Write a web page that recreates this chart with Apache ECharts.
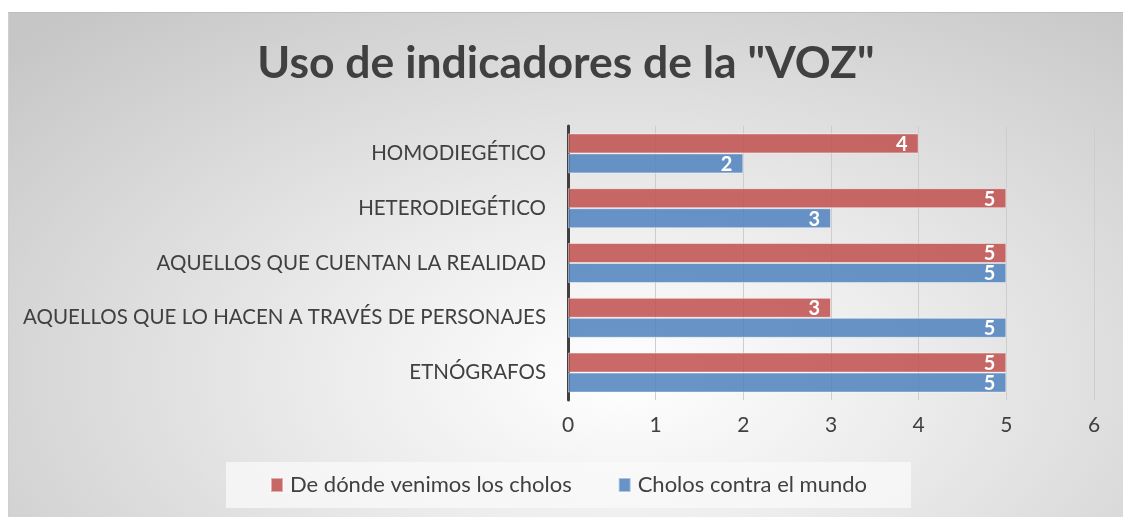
<!DOCTYPE html>
<html>
<head>
<meta charset="utf-8">
<script src="https://cdn.jsdelivr.net/npm/echarts@6/dist/echarts.min.js"></script>
<style>
html,body{margin:0;padding:0;background:#fff;}
#box{position:absolute;left:8px;top:12px;width:1115px;height:505px;
 background:radial-gradient(ellipse 75% 95% at 55% 72%, #ffffff 0%, #ececec 35%, #c6c6c6 100%);
 border-top:1px solid #bdbdbd;border-left:1px solid #cfcfcf;box-sizing:border-box;}
#chart{width:100%;height:100%;}
</style>
</head>
<body>
<div id="box"><div id="chart"></div></div>
<script>
const titleText = 'Uso de indicadores de la "VOZ"';
const categories = ['HOMODIEGÉTICO','HETERODIEGÉTICO','AQUELLOS QUE CUENTAN LA REALIDAD','AQUELLOS QUE LO HACEN A TRAVÉS DE PERSONAJES','ETNÓGRAFOS'];
const seriesNames = ['De dónde venimos los cholos','Cholos contra el mundo'];
const redValues = [4,5,5,3,5];
const blueValues = [2,3,5,5,5];
const xTicks = [0,1,2,3,4,5,6];

const font = 'Lato, "Open Sans", sans-serif';
const chart = echarts.init(document.getElementById('chart'));
const labelCfg = {show:true, position:'insideRight', color:'#fff', fontWeight:'bold', fontSize:20, fontFamily:font, offset:[-6,1]};
chart.setOption({
  animation:false,
  title:{text:titleText, left:'center', top:23, textStyle:{fontSize:44.5, fontWeight:'bold', color:'#404040', fontFamily:font}},
  grid:{left:559, right:29, top:113, bottom:117},
  legend:{
    data:seriesNames, left:217, top:449, itemWidth:12, itemHeight:14, itemGap:46,
    backgroundColor:'rgba(250,250,250,0.75)', padding:[12,44,12,44],
    textStyle:{fontSize:22, color:'#404040', fontFamily:font, padding:[0,0,0,2]}, icon:'rect'
  },
  xAxis:{type:'value', min:0, max:6, interval:1,
    axisLine:{show:false}, axisTick:{show:false},
    splitLine:{lineStyle:{color:'#cdcdcd', width:1}},
    axisLabel:{fontSize:21, color:'#404040', fontFamily:font, margin:15,
      formatter:v=>String(xTicks[v] ?? v)}},
  yAxis:{type:'category', data:categories, inverse:true,
    axisLine:{lineStyle:{color:'#404040', width:3}}, axisTick:{show:false},
    axisLabel:{fontSize:20.5, color:'#404040', fontFamily:font, margin:22}},
  series:[
    {name:seriesNames[0], type:'bar', data:redValues, barGap:'0%', barCategoryGap:'27%',
     itemStyle:{color:'rgba(192,80,77,0.85)', borderColor:'rgba(255,255,255,0.45)', borderWidth:1}, label:labelCfg},
    {name:seriesNames[1], type:'bar', data:blueValues, barGap:'0%', barCategoryGap:'27%',
     itemStyle:{color:'rgba(79,129,189,0.85)', borderColor:'rgba(255,255,255,0.45)', borderWidth:1}, label:labelCfg}
  ]
});
</script>
</body>
</html>
